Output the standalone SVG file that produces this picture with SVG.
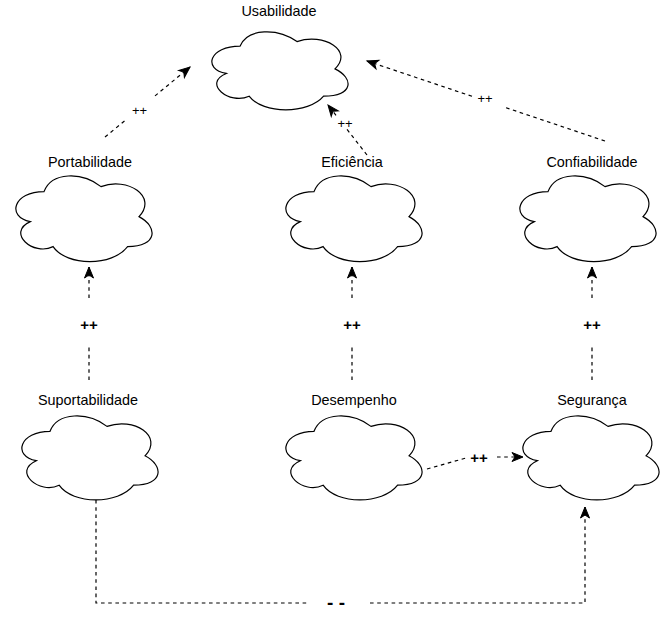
<svg xmlns="http://www.w3.org/2000/svg" width="668" height="633" viewBox="0 0 668 633">
<style>
.cloud{fill:#fff;stroke:#000;stroke-width:1.2}
.lbl{font-family:"Liberation Sans",Arial,sans-serif;font-size:14.4px;fill:#000;text-anchor:middle}
.pp{font-family:"Liberation Sans",Arial,sans-serif;font-size:13px;fill:#000;text-anchor:middle}
.bp{font-family:"Liberation Sans",Arial,sans-serif;font-size:15px;font-weight:bold;fill:#000;text-anchor:middle}
.e{fill:none;stroke:#000;stroke-width:1.2;stroke-dasharray:3.6 3.6}
.a{marker-end:url(#arr)}
</style>
<defs>
<marker id="arr" markerUnits="userSpaceOnUse" markerWidth="12" markerHeight="10" refX="11" refY="4.5" orient="auto" overflow="visible">
<path d="M0,0 L11,4.5 L0,9 L3,4.5 Z" fill="#000" stroke="#000" stroke-width="1"/>
</marker>
<path id="c152x100" d="M38 25 C7.6 25 0 50 24.3 55 C0 66 27.4 90 47.1 80 C60.8 100 106.4 100 121.6 80 C152 80 152 60 133 50 C152 30 121.6 10 95 20 C76 5 45.6 5 38 25 Z"/>
<path id="c152x98" d="M38 24.5 C7.6 24.5 0 49 24.3 53.9 C0 64.7 27.4 88.2 47.1 78.4 C60.8 98 106.4 98 121.6 78.4 C152 78.4 152 58.8 133 49 C152 29.4 121.6 9.8 95 19.6 C76 4.9 45.6 4.9 38 24.5 Z"/>
<path id="c152x91" d="M38 22.75 C7.6 22.75 0 45.5 24.3 50.05 C0 60.06 27.4 81.9 47.1 72.8 C60.8 91 106.4 91 121.6 72.8 C152 72.8 152 54.6 133 45.5 C152 27.3 121.6 9.1 95 18.2 C76 4.55 45.6 4.55 38 22.75 Z"/>
</defs>

<g id="connectors">
<!-- Portabilidade -> Usabilidade -->
<path class="e" d="M105,137 L125,120.6"/>
<path class="e a" d="M155,95.9 L190,67"/>
<text class="pp" x="139.5" y="115">++</text>
<!-- Eficiencia -> Usabilidade -->
<path class="e a" d="M367,155 L328,105"/>
<rect x="337" y="116" width="16" height="13" fill="#fff"/>
<text class="pp" x="345" y="127.5">++</text>
<!-- Confiabilidade -> Usabilidade -->
<path class="e" d="M605,141 L503,106.7"/>
<path class="e a" d="M472,96.3 L367,61"/>
<text class="pp" x="485" y="102.5">++</text>
<!-- Suportabilidade -> Portabilidade -->
<path class="e" d="M89,380 L89,347"/>
<path class="e a" d="M89,298 L89,267"/>
<text class="bp" x="89" y="329.5">++</text>
<!-- Desempenho -> Eficiencia -->
<path class="e" d="M352,380 L352,347"/>
<path class="e a" d="M352,298 L352,267"/>
<text class="bp" x="352" y="329.5">++</text>
<!-- Seguranca -> Confiabilidade -->
<path class="e" d="M592,380 L592,347"/>
<path class="e a" d="M592,298 L592,267"/>
<text class="bp" x="592" y="329.5">++</text>
<!-- Desempenho -> Seguranca -->
<path class="e" d="M427,469 L466,458"/>
<path class="e a" d="M497,457 L523,457"/>
<text class="bp" x="479" y="462.5">++</text>
<!-- Suportabilidade -> Seguranca -->
<path class="e" d="M96,500 L96,603 L307,603"/>
<path class="e a" d="M370,603 L585,603 L585,507"/>
<text class="bp" x="336" y="609" style="font-size:19px" xml:space="preserve">- -</text>
</g>

<g id="usabilidade">
<use href="#c152x91" class="cloud" transform="translate(202,23.4)"/>
<text class="lbl" x="279" y="15.5">Usabilidade</text>
</g>
<g id="portabilidade">
<use href="#c152x100" class="cloud" transform="translate(6,166.6)"/>
<text class="lbl" x="90" y="167">Portabilidade</text>
</g>
<g id="eficiencia">
<use href="#c152x100" class="cloud" transform="translate(276,166.6)"/>
<text class="lbl" x="352" y="167">Eficiência</text>
</g>
<g id="confiabilidade">
<use href="#c152x100" class="cloud" transform="translate(510,166.6)"/>
<text class="lbl" x="592" y="167">Confiabilidade</text>
</g>
<g id="suportabilidade">
<use href="#c152x98" class="cloud" transform="translate(12,406.8)"/>
<text class="lbl" x="88" y="405">Suportabilidade</text>
</g>
<g id="desempenho">
<use href="#c152x98" class="cloud" transform="translate(276,406.8)"/>
<text class="lbl" x="354" y="405">Desempenho</text>
</g>
<g id="seguranca">
<use href="#c152x98" class="cloud" transform="translate(513,406.8)"/>
<text class="lbl" x="592" y="405">Segurança</text>
</g>
</svg>
